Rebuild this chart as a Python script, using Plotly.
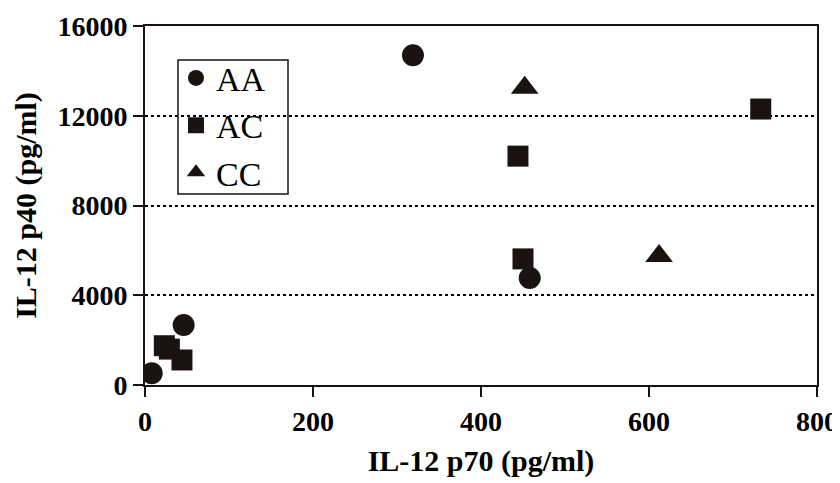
import plotly.graph_objects as go

aa_x = [8, 46, 319, 458]
aa_y = [520, 2670, 14700, 4770]
ac_x = [23, 29, 44, 444, 450, 733]
ac_y = [1750, 1600, 1115, 10200, 5620, 12300]
cc_x = [452, 612]
cc_y = [13250, 5750]

x_ticks = [0, 200, 400, 600, 800]
x_labels = ["0", "200", "400", "600", "800"]
y_ticks = [0, 4000, 8000, 12000, 16000]
y_labels = ["0", "4000", "8000", "12000", "16000"]

serif = "Liberation Serif, Times New Roman, serif"
ink = "#1a1311"

fig = go.Figure()
fig.add_trace(go.Scatter(x=aa_x, y=aa_y, mode="markers", name="AA",
                         marker=dict(symbol="circle", size=22, color=ink)))
fig.add_trace(go.Scatter(x=ac_x, y=ac_y, mode="markers", name="AC",
                         marker=dict(symbol="square", size=21, color=ink)))
fig.add_trace(go.Scatter(x=cc_x, y=cc_y, mode="markers", name="CC",
                         marker=dict(symbol="triangle-up", size=24, color=ink)))

# legend frame (page offset of 8px compensated in margins)
fig.add_shape(type="rect", xref="paper", yref="paper",
              x0=(178 - 145) / 672, x1=(288 - 145) / 672,
              y0=(385 - 194) / 359, y1=(385 - 60) / 359,
              line=dict(color=ink, width=1.5), fillcolor="white", layer="below")

fig.update_layout(
    width=832, height=475,
    margin=dict(l=137, r=23, t=18, b=98),
    paper_bgcolor="white", plot_bgcolor="rgba(0,0,0,0)",
    font=dict(family=serif, color="black"),
    showlegend=True,
    legend=dict(x=0.0461, y=0.935, xanchor="left", yanchor="top",
                borderwidth=0, bgcolor="rgba(0,0,0,0)",
                font=dict(family=serif, size=34, color="black"),
                itemwidth=30, tracegroupgap=0),
    xaxis=dict(range=[0, 800], tickvals=x_ticks, ticktext=x_labels,
               showgrid=False, zeroline=False, automargin=False,
               showline=True, linecolor=ink, linewidth=2, mirror=True,
               ticks="outside", ticklen=10, tickwidth=1.5, tickcolor=ink,
               ticklabelstandoff=0, ticklabeloverflow="allow",
               tickfont=dict(family=serif, size=28, color="black", weight="bold"),
               title=dict(text="<b>IL-12 p70 (pg/ml)</b>", standoff=14,
                          font=dict(family=serif, size=30, color="black"))),
    yaxis=dict(range=[0, 16000], tickvals=y_ticks, ticktext=y_labels,
               showgrid=True, automargin=False,
               gridcolor="black", griddash="dot", gridwidth=1.5, zeroline=False,
               showline=True, linecolor=ink, linewidth=2, mirror=True,
               ticks="outside", ticklen=10, tickwidth=1.5, tickcolor=ink,
               tickfont=dict(family=serif, size=28, color="black", weight="bold"),
               title=dict(text="<b>IL-12 p40 (pg/ml)</b>", standoff=12,
                          font=dict(family=serif, size=30, color="black"))),
)

fig.write_html("out.html")
